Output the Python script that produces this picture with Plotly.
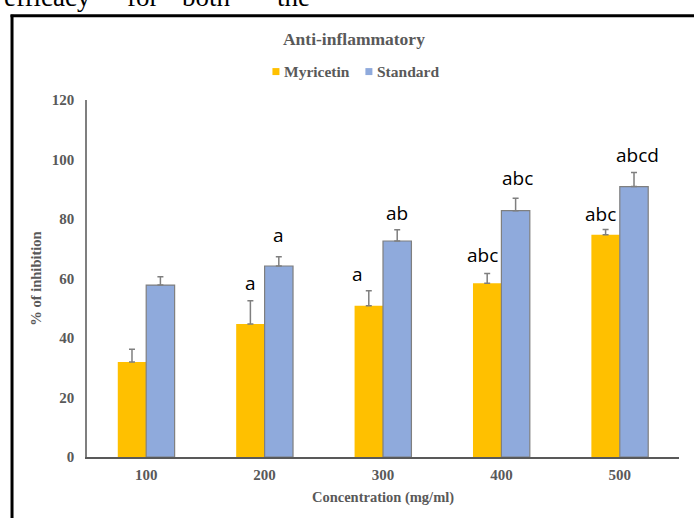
import plotly.graph_objects as go

# ---- data ----
concentrations = ["100", "200", "300", "400", "500"]
myricetin = [31.9, 44.7, 50.8, 58.4, 74.7]
myricetin_err = [4.3, 7.8, 5.1, 3.3, 1.8]
standard = [57.8, 64.2, 72.6, 82.8, 90.9]
standard_err = [2.8, 3.1, 3.8, 4.2, 4.7]
myricetin_letters = ["", "a", "a", "abc", "abc"]
standard_letters = ["", "a", "ab", "abc", "abcd"]
series_names = ["Myricetin", "Standard"]
series_colors = ["#FFC000", "#8FAADC"]
doc_words = ["efficacy", "for", "both", "the"]

# ---- placement tweaks (pixels) ----
doc_word_x = [1, 125, 180, 275]
myr_label_dx = [0, 0, -11, -5, -5]
myr_label_dy = [0, 0, -1, 0, -3]
std_label_dx = [0, 0, 0, 2, 3]
std_label_dy = [0, 4, -1, 2, 0]

W, H = 694, 518
L, R, T, B = 86.5, 15.3, 99.5, 60.5
PW, PH = W - L - R, H - T - B


def px_x(px):
    return (px - L) / PW


def px_y(py):
    return (H - B - py) / PH


GRAY = "#595959"
SERIF = "Liberation Serif"

fig = go.Figure()
fig.add_trace(go.Bar(
    name=series_names[0], x=concentrations, y=myricetin,
    marker=dict(color=series_colors[0], line=dict(width=0)),
    error_y=dict(type="data", array=myricetin_err, symmetric=False,
                 arrayminus=[0] * len(myricetin_err),
                 color="#7f7f7f", thickness=1.5, width=3),
))
fig.add_trace(go.Bar(
    name=series_names[1], x=concentrations, y=standard,
    marker=dict(color=series_colors[1], line=dict(width=1.2, color="#7f7f7f")),
    error_y=dict(type="data", array=standard_err, symmetric=False,
                 arrayminus=[0] * len(standard_err),
                 color="#7f7f7f", thickness=1.5, width=3),
))

bargap = 0.52
half_bar = (1 - bargap) / 2 * PW / len(concentrations) / 2

annotations = []
for i, (v, e, t) in enumerate(zip(myricetin, myricetin_err, myricetin_letters)):
    if t:
        annotations.append(dict(x=i, y=v + e, xref="x", yref="y", text=t,
                                showarrow=False, xshift=-half_bar + myr_label_dx[i],
                                yshift=3 + myr_label_dy[i], yanchor="bottom",
                                font=dict(family="Open Sans", size=19, color="black")))
for i, (v, e, t) in enumerate(zip(standard, standard_err, standard_letters)):
    if t:
        annotations.append(dict(x=i, y=v + e, xref="x", yref="y", text=t,
                                showarrow=False, xshift=half_bar + std_label_dx[i],
                                yshift=3 + std_label_dy[i], yanchor="bottom",
                                font=dict(family="Open Sans", size=19, color="black")))

for word, xpx in zip(doc_words, doc_word_x):
    annotations.append(dict(x=px_x(xpx), y=px_y(13), xref="paper", yref="paper",
                            text=word, showarrow=False, xanchor="left", yanchor="bottom",
                            font=dict(family=SERIF, size=27, color="black")))

shapes = [
    dict(type="line", xref="paper", yref="paper", x0=px_x(10), x1=px_x(710),
         y0=px_y(15), y1=px_y(15), line=dict(color="black", width=3)),
    dict(type="line", xref="paper", yref="paper", x0=px_x(11.5), x1=px_x(11.5),
         y0=px_y(14), y1=px_y(540), line=dict(color="black", width=3)),
]

# manual legend (small squares close to their labels, as in the reference)
legend_pos = [272, 365]
for name, color, xp in zip(series_names, series_colors, legend_pos):
    shapes.append(dict(type="rect", xref="paper", yref="paper",
                       x0=px_x(xp), x1=px_x(xp + 7), y0=px_y(67.5), y1=px_y(74.5),
                       fillcolor=color, line=dict(width=0)))
    annotations.append(dict(x=px_x(xp + 10), y=px_y(71), xref="paper", yref="paper",
                            text="<b>%s</b>" % name, showarrow=False,
                            xanchor="left", yanchor="middle",
                            font=dict(family=SERIF, size=15.5, color=GRAY)))

fig.update_layout(
    width=W, height=H,
    margin=dict(l=L, r=R, t=T, b=B, autoexpand=False),
    paper_bgcolor="white", plot_bgcolor="white",
    barmode="group", bargap=bargap, bargroupgap=0,
    showlegend=False,
    title=dict(text="<b>Anti-inflammatory</b>", x=0.51, xanchor="center",
               y=1 - 39 / H, yanchor="middle",
               font=dict(family=SERIF, size=17.5, color=GRAY)),
    annotations=annotations,
    shapes=shapes,
    font=dict(family=SERIF, color=GRAY),
)

fig.update_xaxes(
    type="category", range=[-0.5, len(concentrations) - 0.5], autorange=False,
    showline=True, linecolor="#595959", linewidth=1.5,
    showgrid=False, zeroline=False, ticks="",
    tickfont=dict(family=SERIF, size=15, color=GRAY, weight="bold"),
    ticklabelstandoff=3,
    title=dict(text="<b>Concentration (mg/ml)</b>", standoff=10,
               font=dict(family=SERIF, size=14.5, color=GRAY)),
)
fig.update_yaxes(
    range=[0, 120], autorange=False, dtick=20,
    showline=True, linecolor="#7f7f7f", linewidth=1.5,
    showgrid=False, zeroline=False, ticks="",
    tickfont=dict(family=SERIF, size=15, color=GRAY, weight="bold"),
    ticklabelstandoff=8,
    title=dict(text="<b>% of inhibition</b>", standoff=7,
               font=dict(family=SERIF, size=14.5, color=GRAY)),
)

fig.write_html("out.html", config={"displayModeBar": False},
               post_script="document.body.style.margin='0';")
